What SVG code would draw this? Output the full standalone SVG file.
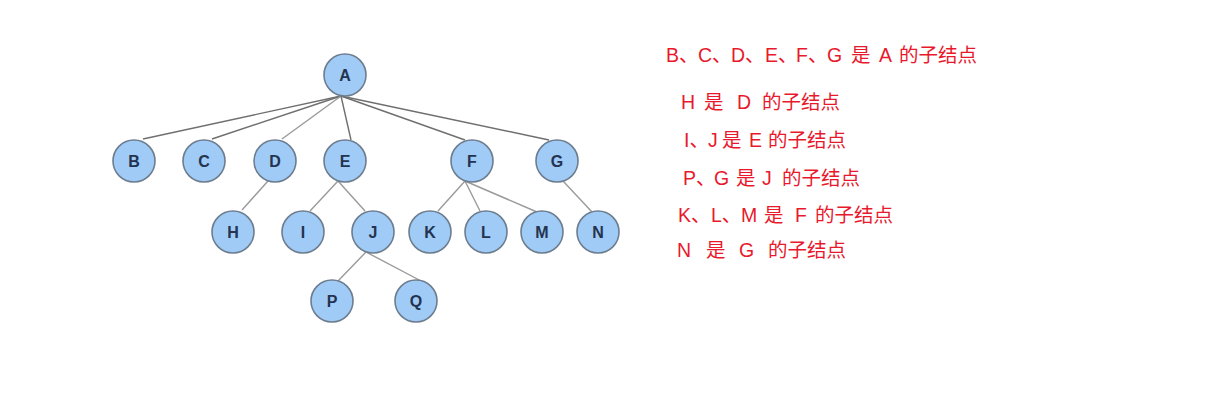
<svg xmlns="http://www.w3.org/2000/svg" width="1212" height="403" viewBox="0 0 1212 403">
<style>
.n circle{fill:#9fcbf6;stroke:#6d7d8e;stroke-width:1.6}
.n text{font-family:"Liberation Sans",Arial,sans-serif;font-weight:bold;font-size:16px;fill:#243350;text-anchor:middle}
.c line{stroke:#9a9a9a;stroke-width:1.4}
.c line.d{stroke:#6f6f6f}
.t{font-family:"Liberation Sans","Noto Sans CJK SC",sans-serif;font-size:19.5px;fill:#e8192c}
</style>
<rect width="1212" height="403" fill="#ffffff"/>
<g id="connectors" class="c">
<line class="d" x1="341" y1="96" x2="143" y2="139"/>
<line class="d" x1="341" y1="96" x2="212" y2="139"/>
<line x1="341" y1="96" x2="282" y2="139"/>
<line class="d" x1="341" y1="96" x2="351" y2="140"/>
<line class="d" x1="341" y1="96" x2="465" y2="140"/>
<line class="d" x1="341" y1="96" x2="549" y2="140"/>
<line x1="268" y1="181" x2="242" y2="210"/>
<line x1="338" y1="181" x2="310" y2="211"/>
<line x1="338" y1="181" x2="365" y2="211"/>
<line x1="465" y1="181" x2="438" y2="211"/>
<line x1="465" y1="181" x2="480" y2="211"/>
<line x1="465" y1="181" x2="537" y2="212"/>
<line x1="563" y1="181" x2="592" y2="212"/>
<line x1="366" y1="252" x2="338" y2="281"/>
<line x1="366" y1="252" x2="423" y2="282"/>
</g>
<g id="A" class="n"><circle cx="345" cy="75" r="21"/><text x="345" y="81">A</text></g>
<g id="B" class="n"><circle cx="134" cy="161" r="21"/><text x="134" y="167">B</text></g>
<g id="C" class="n"><circle cx="204" cy="161" r="21"/><text x="204" y="167">C</text></g>
<g id="D" class="n"><circle cx="275" cy="161" r="21"/><text x="275" y="167">D</text></g>
<g id="E" class="n"><circle cx="345" cy="161" r="21"/><text x="345" y="167">E</text></g>
<g id="F" class="n"><circle cx="472" cy="161" r="21"/><text x="472" y="167">F</text></g>
<g id="G" class="n"><circle cx="557" cy="161" r="21"/><text x="557" y="167">G</text></g>
<g id="H" class="n"><circle cx="233" cy="232" r="21"/><text x="233" y="238">H</text></g>
<g id="I" class="n"><circle cx="303" cy="232" r="21"/><text x="303" y="238">I</text></g>
<g id="J" class="n"><circle cx="373" cy="232" r="21"/><text x="373" y="238">J</text></g>
<g id="K" class="n"><circle cx="430" cy="232" r="21"/><text x="430" y="238">K</text></g>
<g id="L" class="n"><circle cx="486" cy="232" r="21"/><text x="486" y="238">L</text></g>
<g id="M" class="n"><circle cx="542" cy="232" r="21"/><text x="542" y="238">M</text></g>
<g id="N" class="n"><circle cx="598" cy="232" r="21"/><text x="598" y="238">N</text></g>
<g id="P" class="n"><circle cx="332" cy="301" r="21"/><text x="332" y="307">P</text></g>
<g id="Q" class="n"><circle cx="416" cy="301" r="21"/><text x="416" y="307">Q</text></g>
<g id="notes">
<text class="t" y="62"><tspan x="666">B、</tspan><tspan x="698">C、</tspan><tspan x="731">D、</tspan><tspan x="765">E、</tspan><tspan x="796">F、</tspan><tspan x="827">G</tspan><tspan x="851">是</tspan><tspan x="879">A</tspan><tspan x="899">的子结点</tspan></text>
<text class="t" y="109"><tspan x="681">H</tspan><tspan x="704">是</tspan><tspan x="737">D</tspan><tspan x="762">的子结点</tspan></text>
<text class="t" y="147"><tspan x="684">I、</tspan><tspan x="708">J</tspan><tspan x="722">是</tspan><tspan x="749">E</tspan><tspan x="768">的子结点</tspan></text>
<text class="t" y="185"><tspan x="683">P、</tspan><tspan x="714">G</tspan><tspan x="736">是</tspan><tspan x="762">J</tspan><tspan x="782">的子结点</tspan></text>
<text class="t" y="222"><tspan x="678">K、</tspan><tspan x="711">L、</tspan><tspan x="741">M</tspan><tspan x="764">是</tspan><tspan x="795">F</tspan><tspan x="815">的子结点</tspan></text>
<text class="t" y="257"><tspan x="677">N</tspan><tspan x="706">是</tspan><tspan x="739">G</tspan><tspan x="768">的子结点</tspan></text>
</g>
</svg>
